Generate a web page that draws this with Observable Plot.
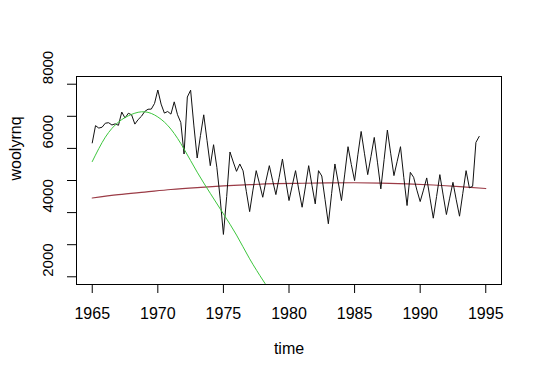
<!DOCTYPE html>
<html><head><meta charset="utf-8">
<script src="https://cdn.jsdelivr.net/npm/d3@7"></script>
<script src="https://cdn.jsdelivr.net/npm/@observablehq/plot@0.6"></script>
<style>body{margin:0;background:#fff}</style>
</head><body><div id="chart"></div>
<script>
const startYear = 1965;
const frequency = 4;
const woolyrnq = [
  6172, 6709, 6633, 6660,
  6786, 6800, 6730, 6765,
  6720, 7133, 6946, 7095,
  7047, 6757, 6898, 7000,
  7150, 7220, 7224, 7401,
  7819, 7380, 7100, 7150,
  7068, 7450, 7050, 6807,
  5826, 7600, 7813, 6700,
  5700, 6400, 7046, 6250,
  5462, 6115, 5410, 4450,
  3320, 4500, 5888, 5577,
  5285, 5515, 5300, 4650,
  4030, 4700, 5307, 4900,
  4478, 5000, 5462, 5000,
  4561, 5100, 5670, 5000,
  4375, 4850, 5307, 4700,
  4167, 4800, 5462, 4850,
  4271, 5307, 5140, 4400,
  3652, 4600, 5515, 4950,
  4375, 5200, 6053, 5500,
  4997, 5800, 6528, 5850,
  5183, 5750, 6342, 5550,
  4739, 5650, 6571, 5850,
  5152, 5600, 6053, 5100,
  4220, 5254, 5100, 4700,
  4344, 4700, 5080, 4450,
  3826, 4500, 5183, 4550,
  3940, 4450, 4944, 4400,
  3888, 4600, 5307, 4770,
  4820, 6186, 6373
];
const greenYears  = [1965, 1966, 1967, 1968, 1969, 1970, 1971, 1972, 1973, 1974, 1975, 1976, 1977, 1978, 1978.5];
const greenValues = [5590, 6350, 6820, 7060, 7140, 6980, 6600, 5980, 5260, 4600, 3960, 3300, 2560, 1900, 1590];
const redYears  = [1965, 1967, 1969, 1971, 1973, 1975, 1977, 1979, 1981, 1983, 1985, 1987, 1989, 1991, 1993, 1995];
const redValues = [4455, 4560, 4640, 4720, 4780, 4830, 4870, 4900, 4915, 4925, 4930, 4920, 4895, 4860, 4810, 4750];
const xTicks = [1965, 1970, 1975, 1980, 1985, 1990, 1995];
const yTicks = [2000, 3000, 4000, 5000, 6000, 7000, 8000];
const yTickLabels = [2000, 4000, 6000, 8000];

const series = woolyrnq.map((v, i) => ({time: startYear + i / frequency, value: v}));
const green = greenYears.map((t, i) => ({time: t, value: greenValues[i]}));
const red = redYears.map((t, i) => ({time: t, value: redValues[i]}));

const chart = Plot.plot({
  width: 540, height: 379,
  marginLeft: 76, marginRight: 39, marginTop: 76, marginBottom: 95,
  style: {fontFamily: "'Liberation Sans', Arial, sans-serif", background: "#fff", color: "#000"},
  x: {domain: [1963.8, 1996.2]},
  y: {domain: [1760, 8240]},
  marks: [
    Plot.line(red, {x: "time", y: "value", stroke: "#9b3b46", strokeWidth: 1.2, curve: "natural", clip: true}),
    Plot.line(series, {x: "time", y: "value", stroke: "#111", strokeWidth: 1}),
    Plot.line(green, {x: "time", y: "value", stroke: "#3dc63d", strokeWidth: 1, curve: "natural", clip: true}),
    Plot.frame({stroke: "#000"}),
    Plot.axisX({ticks: xTicks, tickSize: 9, tickPadding: 14, tickFormat: d => String(d), fontSize: 16, label: null}),
    Plot.axisY({ticks: yTicks, tickSize: 9, tickFormat: () => "", label: null}),
    Plot.text(yTickLabels, {y: d => d, text: d => String(d), frameAnchor: "left", dx: -28, rotate: -90, fontSize: 15}),
    Plot.text(["time"], {frameAnchor: "bottom", dy: 69, fontSize: 16}),
    Plot.text(["woolyrnq"], {frameAnchor: "left", dx: -61, rotate: -90, fontSize: 16})
  ]
});
document.getElementById("chart").appendChild(chart);
</script>
</body></html>
